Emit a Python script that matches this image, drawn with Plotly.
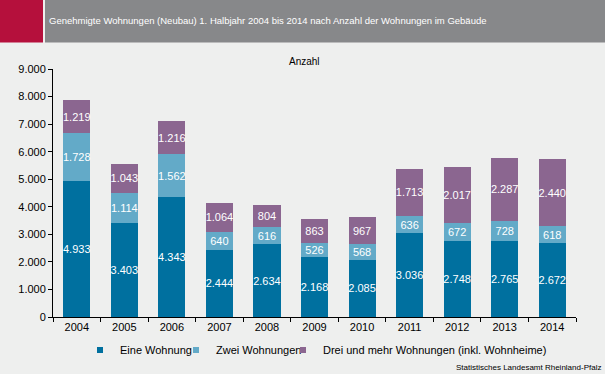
import plotly.graph_objects as go

years = ["2004", "2005", "2006", "2007", "2008", "2009", "2010", "2011", "2012", "2013", "2014"]
eine = [4933, 3403, 4343, 2444, 2634, 2168, 2085, 3036, 2748, 2765, 2672]
zwei = [1728, 1114, 1562, 640, 616, 526, 568, 636, 672, 728, 618]
drei = [1219, 1043, 1216, 1064, 804, 863, 967, 1713, 2017, 2287, 2440]
series_names = ["Eine Wohnung", "Zwei Wohnungen", "Drei und mehr Wohnungen (inkl. Wohnheime)"]
colors = ["#00709f", "#63aac8", "#8b6690"]

W, H = 605, 374
L, R, T, B = 53, 29, 69, 57
pw, ph = W - L - R, H - T - B

def px(x):
    return (x - L) / pw

def py(y):
    return (H - B - y) / ph

def fmt(v):
    return f"{v:,}".replace(",", ".")

FONT = "Liberation Sans, Arial, sans-serif"
legend_text_x = [120, 216, 323]
legend_ids = ["legend", "legend2", "legend3"]

fig = go.Figure()
for name, vals, c, lid in zip(series_names, [eine, zwei, drei], colors, legend_ids):
    fig.add_trace(go.Bar(
        x=years, y=vals, name=name, marker=dict(color=c, line=dict(width=0)),
        text=[fmt(v) for v in vals], textposition="inside", insidetextanchor="middle",
        textangle=0,
        textfont=dict(color="white", size=11, family=FONT),
        constraintext="none", hoverinfo="skip", showlegend=False,
    ))
    fig.add_trace(go.Scatter(
        x=[None], y=[None], mode="markers", name=name,
        marker=dict(symbol="square", size=6, color=c), legend=lid, showlegend=True,
    ))

leg_common = dict(orientation="h", xref="container", yref="container", xanchor="left",
                  yanchor="middle", y=1 - 350 / H, font=dict(size=11, family=FONT),
                  bgcolor="rgba(0,0,0,0)", borderwidth=0, itemwidth=30)

layout_legends = {}
for lid, tx in zip(legend_ids, legend_text_x):
    layout_legends[lid] = dict(leg_common, x=(tx - 40) / W)

fig.update_layout(
    barmode="stack", bargap=0.43,
    width=W, height=H,
    margin=dict(l=L, r=R, t=T, b=B, pad=0, autoexpand=False),
    paper_bgcolor="#eeefee", plot_bgcolor="#eeefee",
    separators=",.",
    font=dict(family=FONT, size=11, color="#000000"),
    showlegend=True,
    xaxis=dict(showline=True, linecolor="#000000", linewidth=1, ticks="outside",
               tickson="boundaries", ticklen=4, tickcolor="#000000", showgrid=False,
               tickfont=dict(size=11), fixedrange=True),
    yaxis=dict(range=[0, 9000], dtick=1000, tickformat=",.0f", showline=True,
               linecolor="#000000", linewidth=1, ticks="outside", ticklen=4,
               tickcolor="#000000", showgrid=False, zeroline=False,
               tickfont=dict(size=11), fixedrange=True),
    shapes=[
        dict(type="rect", xref="paper", yref="paper", x0=px(0), x1=px(43), y0=py(42.5), y1=py(0),
             fillcolor="#b5103c", line=dict(width=0), layer="above"),
        dict(type="rect", xref="paper", yref="paper", x0=px(45), x1=px(605), y0=py(42.5), y1=py(0),
             fillcolor="#87888a", line=dict(width=0), layer="above"),
    ],
    annotations=[
        dict(text="Genehmigte Wohnungen (Neubau) 1. Halbjahr 2004 bis 2014 nach Anzahl der Wohnungen im Gebäude",
             xref="paper", yref="paper", x=px(47), y=py(21), xanchor="left", yanchor="middle",
             showarrow=False, font=dict(color="white", size=9.5)),
        dict(text="Anzahl", xref="paper", yref="paper", x=px(304), y=py(61), xanchor="center",
             yanchor="middle", showarrow=False, font=dict(size=10)),
        dict(text="Statistisches Landesamt Rheinland-Pfalz", xref="paper", yref="paper",
             x=px(603), y=py(367), xanchor="right", yanchor="middle", showarrow=False,
             font=dict(size=8)),
    ],
    **layout_legends,
)

fig.write_html("out.html", config={"displayModeBar": False},
               post_script="document.body.style.margin='0';document.body.style.overflow='hidden';")
